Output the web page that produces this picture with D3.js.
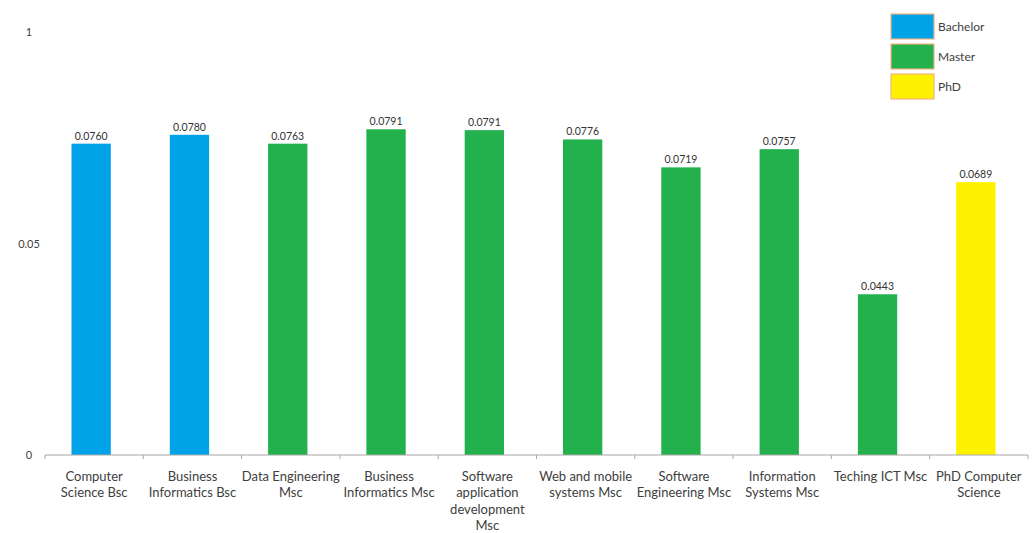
<!DOCTYPE html>
<html>
<head>
<meta charset="utf-8">
<script src="https://cdn.jsdelivr.net/npm/d3@7"></script>
<style>
  body { margin: 0; background: #fff; }
  text { font-family: Lato, "Open Sans", sans-serif; fill: #404040; }
</style>
</head>
<body>
<svg id="chart" width="1035" height="533"></svg>
<script>
// programmes on the x axis (lines split where the original wraps them)
var programmes = [
    ["Computer", "Science Bsc"],
    ["Business", "Informatics Bsc"],
    ["Data Engineering", "Msc"],
    ["Business", "Informatics Msc"],
    ["Software", "application", "development", "Msc"],
    ["Web and mobile", "systems Msc"],
    ["Software", "Engineering Msc"],
    ["Information", "Systems Msc"],
    ["Teching ICT Msc"],
    ["PhD Computer", "Science"]
];
var levels = ["Bachelor", "Bachelor", "Master", "Master", "Master", "Master", "Master", "Master", "Master", "PhD"];
// printed value above each bar
var valueLabels = ["0.0760", "0.0780", "0.0763", "0.0791", "0.0791", "0.0776", "0.0719", "0.0757", "0.0443", "0.0689"];
// bar heights as drawn in the picture (axis units)
var barHeights = [0.0736, 0.0757, 0.0736, 0.0770, 0.0768, 0.0746, 0.0680, 0.0723, 0.0380, 0.0645];
var yTicks = [0, 0.05, 0.1];
var yTickLabels = ["0", "0.05", "1"];
var legendNames = ["Bachelor", "Master", "PhD"];
var legendColors = ["#00A2E8", "#22B14C", "#FFF200"];

var svg = d3.select("#chart");

var x = d3.scaleBand()
    .domain(d3.range(programmes.length))
    .range([42, 1025])
    .paddingInner(0.6)
    .paddingOuter(0.3);

var y = d3.scaleLinear()
    .domain([0, 0.1])
    .range([455, 32]);

var color = d3.scaleOrdinal().domain(legendNames).range(legendColors);

// bars
svg.selectAll("rect.bar")
    .data(barHeights)
    .enter().append("rect")
    .attr("class", "bar")
    .attr("x", function(d, i) { return x(i); })
    .attr("y", function(d) { return y(d); })
    .attr("width", x.bandwidth())
    .attr("height", function(d) { return y(0) - y(d); })
    .attr("fill", function(d, i) { return color(levels[i]); });

svg.selectAll("text.val")
    .data(barHeights)
    .enter().append("text")
    .attr("class", "val")
    .attr("x", function(d, i) { return x(i) + x.bandwidth() / 2; })
    .attr("y", function(d) { return y(d) - 4; })
    .attr("text-anchor", "middle")
    .style("font-size", "10.5px")
    .style("fill", "#333")
    .text(function(d, i) { return valueLabels[i]; });

// x axis line + ticks at category edges
var xAxisY = y(0);
svg.append("line")
    .attr("x1", 45).attr("x2", 1028)
    .attr("y1", xAxisY).attr("y2", xAxisY)
    .attr("stroke", "#a6a6a6").attr("stroke-width", 1.2);

var step = (1028 - 45) / programmes.length;
svg.selectAll("line.tick")
    .data(d3.range(programmes.length + 1))
    .enter().append("line")
    .attr("class", "tick")
    .attr("x1", function(i) { return 45 + i * step; })
    .attr("x2", function(i) { return 45 + i * step; })
    .attr("y1", xAxisY).attr("y2", xAxisY + 4)
    .attr("stroke", "#a6a6a6");

var cat = svg.selectAll("text.cat")
    .data(programmes)
    .enter().append("text")
    .attr("class", "cat")
    .attr("text-anchor", "middle")
    .style("font-size", "13px")
    .attr("transform", function(d, i) { return "translate(" + (45 + (i + 0.5) * step) + "," + (xAxisY + 26) + ")"; });

cat.selectAll("tspan")
    .data(function(d) { return d; })
    .enter().append("tspan")
    .attr("x", 0)
    .attr("y", function(d, j) { return j * 16.3; })
    .text(function(d) { return d; });

// y tick labels (no axis line in the original)
svg.selectAll("text.ytick")
    .data(yTicks)
    .enter().append("text")
    .attr("class", "ytick")
    .attr("x", 29)
    .attr("y", function(d) { return y(d) + 4; })
    .attr("text-anchor", "middle")
    .style("font-size", "11px")
    .text(function(d, i) { return yTickLabels[i]; });

// legend
var legend = svg.selectAll("g.legend")
    .data(legendNames)
    .enter().append("g")
    .attr("class", "legend")
    .attr("transform", function(d, i) { return "translate(891," + (14 + i * 30) + ")"; });

legend.append("rect")
    .attr("width", 43).attr("height", 25)
    .attr("fill", function(d) { return color(d); })
    .attr("stroke", "#F4B183").attr("stroke-width", 1.2);

legend.append("text")
    .attr("x", 47).attr("y", 17)
    .style("font-size", "12px")
    .text(function(d) { return d; });
</script>
</body>
</html>
